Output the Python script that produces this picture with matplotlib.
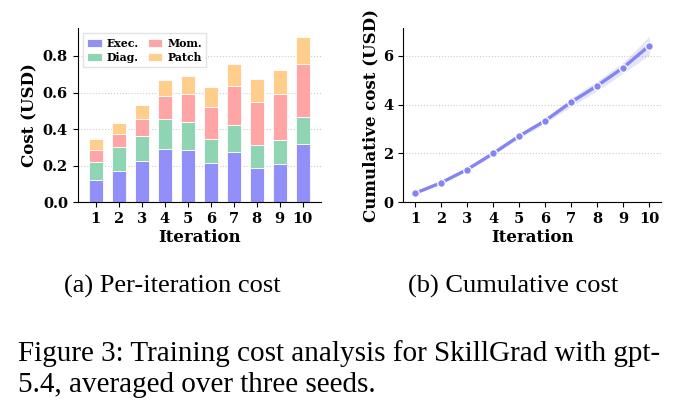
import numpy as np
import matplotlib
matplotlib.use("Agg")
import matplotlib.pyplot as plt

# per-iteration cost components (USD), averaged over seeds
iterations = [1, 2, 3, 4, 5, 6, 7, 8, 9, 10]
exec_cost = [0.122, 0.173, 0.228, 0.293, 0.288, 0.217, 0.277, 0.190, 0.208, 0.321]
diag_cost = [0.098, 0.127, 0.133, 0.161, 0.153, 0.127, 0.148, 0.125, 0.131, 0.147]
mom_cost = [0.064, 0.074, 0.096, 0.125, 0.153, 0.179, 0.213, 0.235, 0.255, 0.290]
patch_cost = [0.060, 0.060, 0.073, 0.092, 0.098, 0.107, 0.118, 0.124, 0.131, 0.146]

# cumulative cost and spread across seeds
cum_cost = [0.37, 0.80, 1.34, 2.00, 2.71, 3.34, 4.10, 4.77, 5.51, 6.41]
cum_std = [0.03, 0.04, 0.05, 0.07, 0.09, 0.10, 0.17, 0.20, 0.22, 0.38]

c_exec = "#9090f8"
c_diag = "#8fd5b3"
c_mom = "#ffa5a5"
c_patch = "#ffcd8c"
c_line = "#8585f2"

plt.rcParams["font.family"] = "DejaVu Serif"
plt.rcParams["font.weight"] = "bold"

fig = plt.figure(figsize=(6.91, 4.15), dpi=100)
ax1 = fig.add_axes([0.1124, 0.5125, 0.3517, 0.42])
ax2 = fig.add_axes([0.5837, 0.5125, 0.373, 0.42])

# stacked bars
x = np.array(iterations)
bottom = np.zeros(len(x))
for vals, col, lab in [(exec_cost, c_exec, "Exec."), (diag_cost, c_diag, "Diag."),
                       (mom_cost, c_mom, "Mom."), (patch_cost, c_patch, "Patch")]:
    ax1.bar(x, vals, 0.6, bottom=bottom, color=col, edgecolor="white",
            linewidth=0.6, label=lab, zorder=2)
    bottom = bottom + np.array(vals)

ax1.set_ylim(0, 0.953)
ax1.set_xticks(iterations)
ax1.set_yticks([0.0, 0.2, 0.4, 0.6, 0.8])
ax1.set_ylabel("Cost (USD)", fontsize=12, fontweight="bold", labelpad=3)
ax1.set_xlabel("Iteration", fontsize=12, fontweight="bold", labelpad=2)
ax1.legend(ncol=2, loc="upper left", handlelength=1.3, handleheight=0.8,
           columnspacing=0.8, handletextpad=0.5, borderpad=0.4, labelspacing=0.3,
           prop={"weight": "bold", "size": 7.8}, fancybox=False, edgecolor="#dddddd")

# cumulative line
cum = np.array(cum_cost)
sd = np.array(cum_std)
ax2.fill_between(x, cum - sd, cum + sd, color=c_line, alpha=0.22, linewidth=0, zorder=1)
ax2.plot(x, cum, color=c_line, linewidth=2.4, marker="o", markersize=5.5,
         markeredgecolor="white", markeredgewidth=0.9, zorder=3)
ax2.set_ylim(0, 7.13)
ax2.set_xticks(iterations)
ax2.set_yticks([0, 2, 4, 6])
ax2.set_ylabel("Cumulative cost (USD)", fontsize=12, fontweight="bold", labelpad=3)
ax2.set_xlabel("Iteration", fontsize=12, fontweight="bold", labelpad=2)

for ax in (ax1, ax2):
    ax.spines["top"].set_visible(False)
    ax.spines["right"].set_visible(False)
    ax.grid(axis="y", linestyle=":", color="#cccccc", linewidth=0.8, zorder=0)
    ax.set_axisbelow(True)
    ax.tick_params(labelsize=10.5, length=3.5)
    for t in ax.get_xticklabels() + ax.get_yticklabels():
        t.set_fontweight("bold")

# captions (plain serif, not bold)
cap = dict(family="Liberation Serif", fontweight="normal")
fig.text(172 / 691, 1 - 293 / 415, "(a) Per-iteration cost", ha="center", va="baseline",
         fontsize=19, **cap)
fig.text(513 / 691, 1 - 293 / 415, "(b) Cumulative cost", ha="center", va="baseline",
         fontsize=19, **cap)
fig.text(18 / 691, 1 - 361 / 415, "Figure 3: Training cost analysis for SkillGrad with gpt-",
         ha="left", va="baseline", fontsize=21, **cap)
fig.text(18 / 691, 1 - 392 / 415, "5.4, averaged over three seeds.",
         ha="left", va="baseline", fontsize=21, **cap)

fig.savefig("out.png", dpi=100)
